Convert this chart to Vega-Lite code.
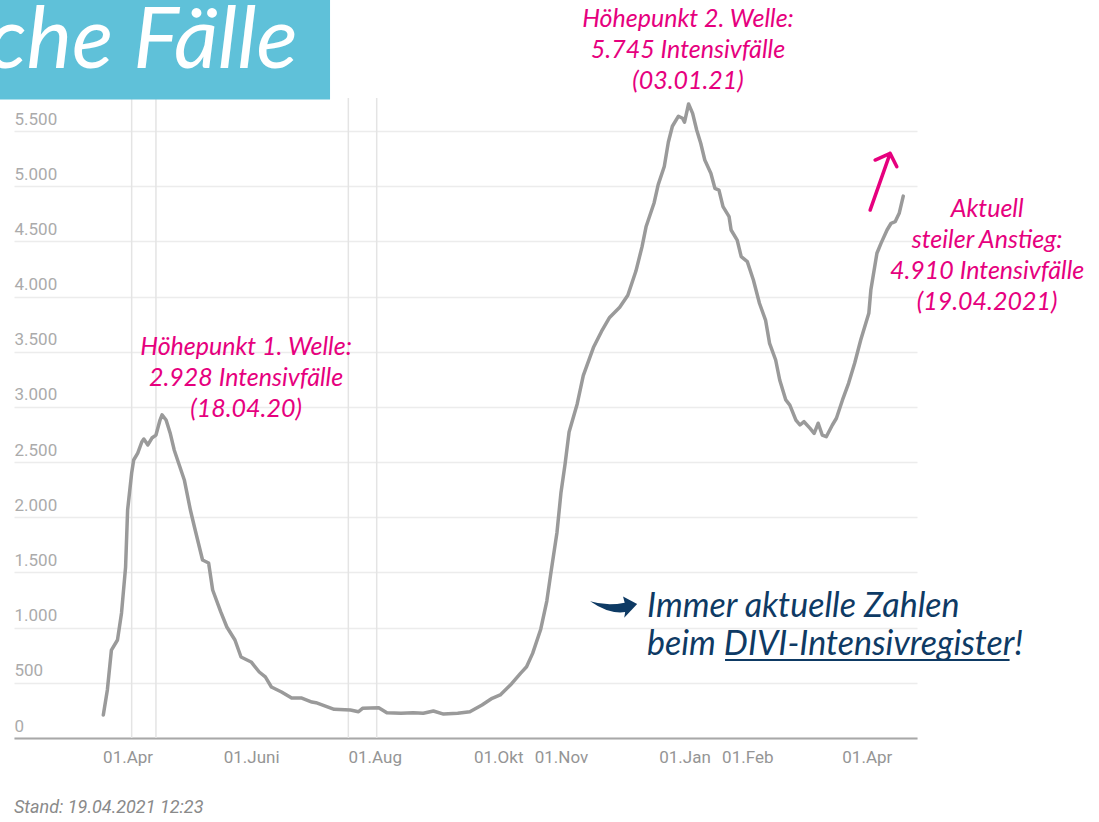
{
  "$schema": "https://vega.github.io/schema/vega-lite/v6.json",
  "width": 903,
  "height": 738,
  "autosize": "none",
  "padding": {"left": 14, "top": 0, "right": 182, "bottom": 84},
  "background": "white",
  "config": {"view": {"stroke": null}},
  "title": {
    "text": "Stand: 19.04.2021 12:23",
    "orient": "bottom",
    "anchor": "start",
    "frame": "group",
    "font": "Roboto",
    "fontSize": 18,
    "fontStyle": "italic",
    "fontWeight": "normal",
    "color": "#8a8a8a",
    "baseline": "top",
    "offset": 34
  },
  "datasets": {
    "vlines": [
      {"date": "2020-04-03", "value": 0, "value2": 5800},
      {"date": "2020-04-15", "value": 0, "value2": 5800},
      {"date": "2020-07-19", "value": 0, "value2": 5800},
      {"date": "2020-08-02", "value": 0, "value2": 5800}
    ],
    "box": [
      {"date": "2020-01-20", "date2": "2020-07-09T23:00:00Z", "value": 5785, "value2": 7500}
    ],
    "boxlabel": [
      {"date": "2020-06-24", "value": 6071, "label": "che Fälle"}
    ],
    "line": [
      {"date": "2020-03-20", "value": 208},
      {"date": "2020-03-22", "value": 435},
      {"date": "2020-03-24", "value": 797},
      {"date": "2020-03-27", "value": 888},
      {"date": "2020-03-29", "value": 1133},
      {"date": "2020-03-31", "value": 1549},
      {"date": "2020-04-01", "value": 2066},
      {"date": "2020-04-03", "value": 2401},
      {"date": "2020-04-04", "value": 2519},
      {"date": "2020-04-06", "value": 2582},
      {"date": "2020-04-08", "value": 2682},
      {"date": "2020-04-09", "value": 2709},
      {"date": "2020-04-11", "value": 2655},
      {"date": "2020-04-13", "value": 2718},
      {"date": "2020-04-15", "value": 2745},
      {"date": "2020-04-17", "value": 2881},
      {"date": "2020-04-18", "value": 2928},
      {"date": "2020-04-20", "value": 2881},
      {"date": "2020-04-22", "value": 2764},
      {"date": "2020-04-24", "value": 2610},
      {"date": "2020-04-26", "value": 2501},
      {"date": "2020-04-29", "value": 2338},
      {"date": "2020-05-02", "value": 2066},
      {"date": "2020-05-04", "value": 1912},
      {"date": "2020-05-08", "value": 1613},
      {"date": "2020-05-11", "value": 1586},
      {"date": "2020-05-13", "value": 1341},
      {"date": "2020-05-17", "value": 1142},
      {"date": "2020-05-20", "value": 1006},
      {"date": "2020-05-24", "value": 888},
      {"date": "2020-05-27", "value": 734},
      {"date": "2020-06-01", "value": 689},
      {"date": "2020-06-05", "value": 598},
      {"date": "2020-06-08", "value": 553},
      {"date": "2020-06-11", "value": 462},
      {"date": "2020-06-16", "value": 417},
      {"date": "2020-06-21", "value": 362},
      {"date": "2020-06-26", "value": 362},
      {"date": "2020-07-01", "value": 326},
      {"date": "2020-07-03", "value": 320},
      {"date": "2020-07-12", "value": 260},
      {"date": "2020-07-20", "value": 254},
      {"date": "2020-07-24", "value": 238},
      {"date": "2020-07-26", "value": 269},
      {"date": "2020-08-03", "value": 275},
      {"date": "2020-08-07", "value": 229},
      {"date": "2020-08-14", "value": 224},
      {"date": "2020-08-20", "value": 229},
      {"date": "2020-08-25", "value": 224},
      {"date": "2020-08-30", "value": 245},
      {"date": "2020-09-04", "value": 217},
      {"date": "2020-09-11", "value": 224},
      {"date": "2020-09-17", "value": 238},
      {"date": "2020-09-23", "value": 299},
      {"date": "2020-09-28", "value": 360},
      {"date": "2020-10-02", "value": 390},
      {"date": "2020-10-07", "value": 480},
      {"date": "2020-10-12", "value": 586},
      {"date": "2020-10-15", "value": 646},
      {"date": "2020-10-18", "value": 767},
      {"date": "2020-10-22", "value": 986},
      {"date": "2020-10-25", "value": 1241},
      {"date": "2020-10-27", "value": 1496},
      {"date": "2020-10-30", "value": 1860},
      {"date": "2020-11-01", "value": 2225},
      {"date": "2020-11-03", "value": 2481},
      {"date": "2020-11-05", "value": 2773},
      {"date": "2020-11-09", "value": 3027},
      {"date": "2020-11-12", "value": 3283},
      {"date": "2020-11-17", "value": 3538},
      {"date": "2020-11-21", "value": 3684},
      {"date": "2020-11-25", "value": 3811},
      {"date": "2020-11-30", "value": 3903},
      {"date": "2020-12-04", "value": 4012},
      {"date": "2020-12-08", "value": 4231},
      {"date": "2020-12-11", "value": 4450},
      {"date": "2020-12-13", "value": 4632},
      {"date": "2020-12-17", "value": 4850},
      {"date": "2020-12-19", "value": 5014},
      {"date": "2020-12-22", "value": 5178},
      {"date": "2020-12-24", "value": 5398},
      {"date": "2020-12-26", "value": 5543},
      {"date": "2020-12-29", "value": 5634},
      {"date": "2020-12-31", "value": 5616},
      {"date": "2021-01-01", "value": 5580},
      {"date": "2021-01-03", "value": 5745},
      {"date": "2021-01-05", "value": 5660},
      {"date": "2021-01-07", "value": 5509},
      {"date": "2021-01-09", "value": 5389},
      {"date": "2021-01-11", "value": 5237},
      {"date": "2021-01-14", "value": 5117},
      {"date": "2021-01-16", "value": 4981},
      {"date": "2021-01-18", "value": 4965},
      {"date": "2021-01-20", "value": 4814},
      {"date": "2021-01-23", "value": 4724},
      {"date": "2021-01-24", "value": 4603},
      {"date": "2021-01-27", "value": 4512},
      {"date": "2021-01-29", "value": 4361},
      {"date": "2021-02-01", "value": 4316},
      {"date": "2021-02-04", "value": 4150},
      {"date": "2021-02-07", "value": 3939},
      {"date": "2021-02-10", "value": 3787},
      {"date": "2021-02-12", "value": 3576},
      {"date": "2021-02-15", "value": 3425},
      {"date": "2021-02-17", "value": 3244},
      {"date": "2021-02-20", "value": 3063},
      {"date": "2021-02-22", "value": 3017},
      {"date": "2021-02-25", "value": 2881},
      {"date": "2021-02-27", "value": 2836},
      {"date": "2021-03-01", "value": 2866},
      {"date": "2021-03-04", "value": 2806},
      {"date": "2021-03-06", "value": 2761},
      {"date": "2021-03-08", "value": 2852},
      {"date": "2021-03-10", "value": 2745},
      {"date": "2021-03-12", "value": 2730},
      {"date": "2021-03-15", "value": 2836},
      {"date": "2021-03-17", "value": 2897},
      {"date": "2021-03-20", "value": 3063},
      {"date": "2021-03-23", "value": 3214},
      {"date": "2021-03-26", "value": 3395},
      {"date": "2021-03-29", "value": 3606},
      {"date": "2021-04-02", "value": 3848},
      {"date": "2021-04-03", "value": 4059},
      {"date": "2021-04-06", "value": 4392},
      {"date": "2021-04-08", "value": 4482},
      {"date": "2021-04-11", "value": 4603},
      {"date": "2021-04-13", "value": 4664},
      {"date": "2021-04-15", "value": 4678},
      {"date": "2021-04-17", "value": 4754},
      {"date": "2021-04-19", "value": 4910}
    ],
    "notes": [
      {"date": "2020-05-29T12:00:00Z", "value": 3470, "lines": ["Höhepunkt 1. Welle:", "2.928 Intensivfälle", "(18.04.20)"]},
      {"date": "2021-01-02T17:00:00Z", "value": 6442, "lines": ["Höhepunkt 2. Welle:", "5.745 Intensivfälle", "(03.01.21)"]},
      {"date": "2021-05-30T10:00:00Z", "value": 4724, "lines": ["Aktuell", "steiler Anstieg:", "4.910 Intensivfälle", "(19.04.2021)"]}
    ],
    "uparrow": [
      {"date": "2021-04-07T14:00:00Z", "value": 5042}
    ],
    "divi": [
      {"date": "2020-12-13T12:00:00Z", "value": 1096, "lines": ["Immer aktuelle Zahlen", "beim DIVI-Intensivregister!"]}
    ],
    "diviarrow": [
      {"date": "2020-11-27", "value": 1196}
    ],
    "underline": [
      {"date": "2021-01-21", "date2": "2021-06-10T12:00:00Z", "value": 707}
    ]
  },
  "layer": [
    {
      "data": {"name": "vlines"},
      "mark": {"type": "rule", "color": "#e4e4e4", "strokeWidth": 1.5},
      "encoding": {
        "x": {"field": "date", "type": "temporal", "scale": {"type": "utc"}, "title": null},
        "y": {"field": "value", "type": "quantitative", "title": null},
        "y2": {"field": "value2"}
      }
    },
    {
      "data": {"name": "line"},
      "mark": {"type": "line", "color": "#9a9a9a", "strokeWidth": 3.5, "strokeJoin": "round", "strokeCap": "round"},
      "encoding": {
        "x": {
          "field": "date",
          "type": "temporal",
          "title": null,
          "scale": {
            "type": "utc",
            "domain": [
              {"year": 2020, "month": 2, "date": 4, "hours": 21, "minutes": 36, "utc": true},
              {"year": 2021, "month": 4, "date": 25, "hours": 19, "utc": true}
            ]
          },
          "axis": {
            "values": [
              {"year": 2020, "month": 4, "date": 1, "utc": true},
              {"year": 2020, "month": 6, "date": 1, "utc": true},
              {"year": 2020, "month": 8, "date": 1, "utc": true},
              {"year": 2020, "month": 10, "date": 1, "utc": true},
              {"year": 2020, "month": 11, "date": 1, "utc": true},
              {"year": 2021, "month": 1, "date": 1, "utc": true},
              {"year": 2021, "month": 2, "date": 1, "utc": true},
              {"year": 2021, "month": 4, "date": 1, "utc": true}
            ],
            "labelExpr": "'01.' + ['Jan','Feb','März','Apr','Mai','Juni','Juli','Aug','Sep','Okt','Nov','Dez'][utcmonth(datum.value)]",
            "ticks": false,
            "grid": false,
            "domain": true,
            "domainColor": "#a8a8a8",
            "domainWidth": 2,
            "labelFont": "Roboto",
            "labelFontSize": 17,
            "labelColor": "#959595",
            "labelPadding": 11,
            "labelFlush": false,
            "labelOverlap": false
          }
        },
        "y": {
          "field": "value",
          "type": "quantitative",
          "title": null,
          "scale": {"domain": [0, 6687], "nice": false, "zero": false},
          "axis": {
            "values": [0, 500, 1000, 1500, 2000, 2500, 3000, 3500, 4000, 4500, 5000, 5500],
            "labelExpr": "replace(format(datum.value, ','), ',', '.')",
            "ticks": false,
            "domain": false,
            "grid": true,
            "gridColor": "#ececec",
            "gridWidth": 1.5,
            "labelAlign": "left",
            "labelBaseline": "alphabetic",
            "labelPadding": 0,
            "labelOffset": -7,
            "labelFont": "Roboto",
            "labelFontSize": 17,
            "labelColor": "#ababab",
            "labelFlush": false,
            "labelOverlap": false
          }
        }
      }
    },
    {
      "data": {"name": "box"},
      "mark": {"type": "rect", "color": "#5fc1d9"},
      "encoding": {
        "x": {"field": "date", "type": "temporal", "scale": {"type": "utc"}, "title": null},
        "x2": {"field": "date2"},
        "y": {"field": "value", "type": "quantitative", "title": null},
        "y2": {"field": "value2"}
      }
    },
    {
      "data": {"name": "boxlabel"},
      "mark": {"type": "text", "align": "right", "baseline": "alphabetic", "font": "Lato", "fontStyle": "italic", "fontSize": 86, "color": "white"},
      "encoding": {
        "x": {"field": "date", "type": "temporal", "scale": {"type": "utc"}, "title": null},
        "y": {"field": "value", "type": "quantitative", "title": null},
        "text": {"field": "label"}
      }
    },
    {
      "data": {"name": "notes"},
      "mark": {"type": "text", "align": "center", "baseline": "alphabetic", "font": "Lato", "fontStyle": "italic", "fontSize": 25, "lineHeight": 31, "color": "#e6007e"},
      "encoding": {
        "x": {"field": "date", "type": "temporal", "scale": {"type": "utc"}, "title": null},
        "y": {"field": "value", "type": "quantitative", "title": null},
        "text": {"field": "lines"}
      }
    },
    {
      "data": {"name": "uparrow"},
      "mark": {"type": "point", "shape": "M -0.333 0.95 L 0.333 -0.94 M -0.167 -0.717 L 0.333 -0.94 L 0.557 -0.493", "size": 3600, "filled": false, "stroke": "#e6007e", "strokeWidth": 3.5, "strokeCap": "round", "strokeJoin": "round", "opacity": 1},
      "encoding": {
        "x": {"field": "date", "type": "temporal", "scale": {"type": "utc"}, "title": null},
        "y": {"field": "value", "type": "quantitative", "title": null}
      }
    },
    {
      "data": {"name": "divi"},
      "mark": {"type": "text", "align": "left", "baseline": "alphabetic", "font": "Lato", "fontStyle": "italic", "fontSize": 34, "lineHeight": 38, "color": "#0e3a64"},
      "encoding": {
        "x": {"field": "date", "type": "temporal", "scale": {"type": "utc"}, "title": null},
        "y": {"field": "value", "type": "quantitative", "title": null},
        "text": {"field": "lines"}
      }
    },
    {
      "data": {"name": "diviarrow"},
      "mark": {"type": "point", "shape": "M -1 -0.2 Q -0.2 0.36 0.49 0.26 L 0.45 0.5 L 1 -0.09 L 0.4 -0.4 L 0.47 -0.14 Q -0.3 0.02 -1 -0.2 Z", "size": 2209, "filled": true, "fill": "#0e3a64", "strokeWidth": 0, "opacity": 1},
      "encoding": {
        "x": {"field": "date", "type": "temporal", "scale": {"type": "utc"}, "title": null},
        "y": {"field": "value", "type": "quantitative", "title": null}
      }
    },
    {
      "data": {"name": "underline"},
      "mark": {"type": "rule", "color": "#0e3a64", "strokeWidth": 2},
      "encoding": {
        "x": {"field": "date", "type": "temporal", "scale": {"type": "utc"}, "title": null},
        "x2": {"field": "date2"},
        "y": {"field": "value", "type": "quantitative", "title": null}
      }
    }
  ]
}
